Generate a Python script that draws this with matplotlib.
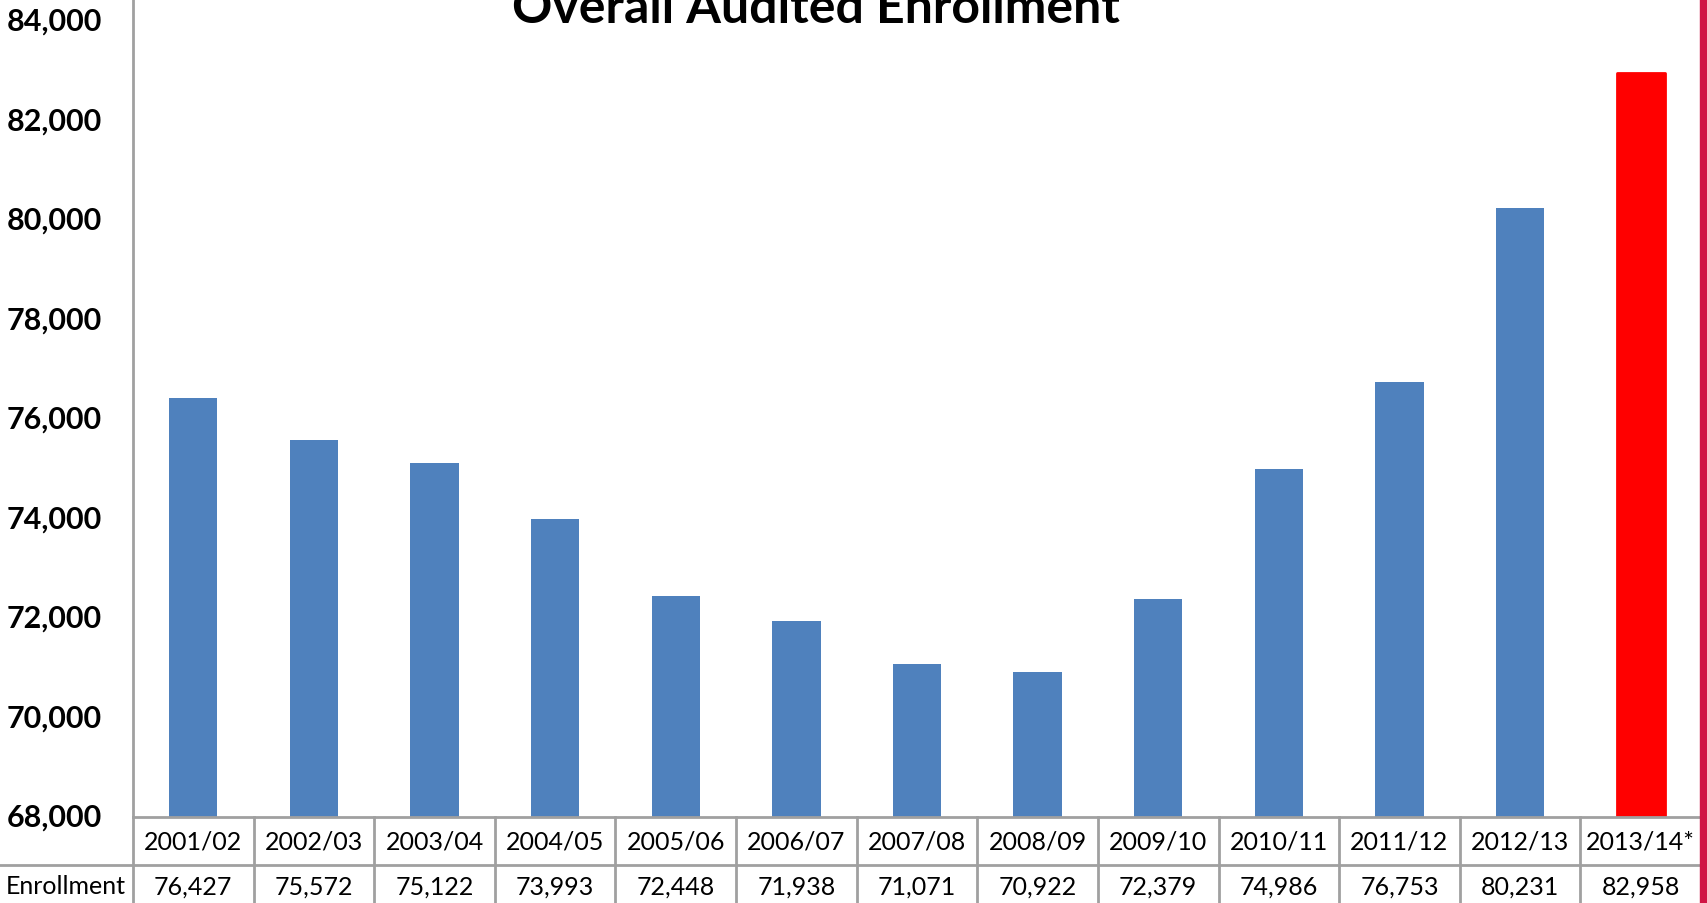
import matplotlib
matplotlib.use("Agg")
import matplotlib.pyplot as plt
from matplotlib.transforms import blended_transform_factory
from matplotlib.patches import Rectangle

categories = ["2001/02", "2002/03", "2003/04", "2004/05", "2005/06", "2006/07",
              "2007/08", "2008/09", "2009/10", "2010/11", "2011/12", "2012/13", "2013/14*"]
enrollment = [76427, 75572, 75122, 73993, 72448, 71938, 71071, 70922, 72379,
              74986, 76753, 80231, 82958]
yticks = [68000, 70000, 72000, 74000, 76000, 78000, 80000, 82000, 84000]
row_label = "Enrollment"
title = "Overall Audited Enrollment"

FONT = "Lato"
W, H = 1708, 904
fig = plt.figure(figsize=(W / 100, H / 100), dpi=100)
ax_left, ax_right, ax_bottom_px = 133, 1701, 818
ax = fig.add_axes([ax_left / W, (H - ax_bottom_px) / H, (ax_right - ax_left) / W, ax_bottom_px / H])

n = len(categories)
xs = list(range(n))
colors = ["#4F81BD"] * (n - 1) + ["#FF0000"]
bottom = 68000
heights = [v - bottom for v in enrollment]
bars = ax.bar(xs, heights, bottom=bottom, width=0.4, color=colors, zorder=2)
bars[-1].set_edgecolor("#FF0000")
bars[-1].set_linewidth(2)
bars[-1].set_joinstyle("round")

ax.set_xlim(-0.5, n - 0.5)
ax.set_ylim(68000, 84442)
ax.set_yticks(yticks)
ax.set_yticklabels([])
ax.tick_params(axis="y", length=0)
ax.set_xticks([])
for s in ["top", "right", "bottom"]:
    ax.spines[s].set_visible(False)
ax.spines["left"].set_color("#A0A0A0")
ax.spines["left"].set_linewidth(2)

# y tick labels placed explicitly (right edge ~31 px left of the axis line)
try_tr = blended_transform_factory(fig.transFigure, ax.transData)
for t in yticks:
    fig.text(102 / W, 0, f"{t:,}", ha="right", va="center", fontsize=22,
             fontweight="bold", family=FONT, transform=try_tr).set_y(t)

# data table
grid = "#A0A0A0"
tr = blended_transform_factory(ax.transData, fig.transFigure)
y_top = (H - 818) / H
y_mid = (H - 866) / H
y_bot = 0.0
ax.plot([-0.5, n - 0.5], [y_top, y_top], color=grid, lw=2, transform=tr, clip_on=False)
fig.add_artist(plt.Line2D([0, ax_right / W], [y_mid, y_mid], color=grid, lw=2))
for i in range(n + 1):
    ax.plot([i - 0.5, i - 0.5], [y_top, y_bot], color=grid, lw=2, transform=tr, clip_on=False)
for i, (c, v) in enumerate(zip(categories, enrollment)):
    ax.text(i, (y_top + y_mid) / 2, c, ha="center", va="center", fontsize=18,
            family=FONT, transform=tr)
    ax.text(i, (y_mid + y_bot) / 2 - 0.002, f"{v:,}", ha="center", va="center", fontsize=18,
            family=FONT, transform=tr)
fig.text(66 / W, (y_mid + y_bot) / 2 - 0.002, row_label, ha="center", va="center",
         fontsize=18, family=FONT)

# title (cut off at top, as in the reference)
fig.text(816 / W, 1 - 23 / H, title, ha="center", va="baseline", fontsize=36,
         fontweight="bold", family=FONT)

# right crimson border
fig.add_artist(Rectangle((1700 / W, 0), 8 / W, 1, transform=fig.transFigure,
                         color="#D01444", zorder=5))

fig.savefig("out.png", dpi=100)
